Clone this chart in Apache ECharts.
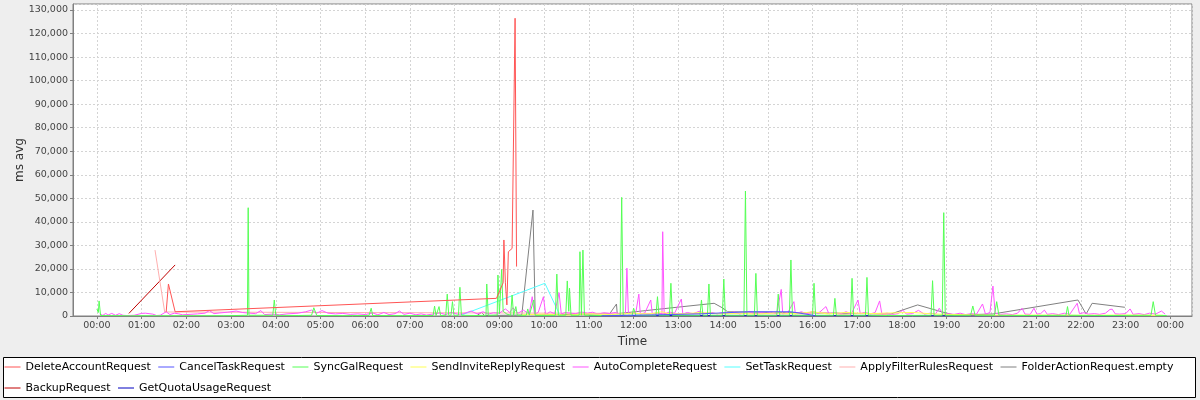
<!DOCTYPE html>
<html>
<head>
<meta charset="utf-8">
<script src="https://cdn.jsdelivr.net/npm/echarts@6/dist/echarts.min.js"></script>
<style>
html,body{margin:0;padding:0;background:#eeeeee;}
#chart{width:1200px;height:400px;}
</style>
</head>
<body>
<div id="chart"></div>
<script>
// ---- data (time of day, ms avg) ----
const seriesNames = ['DeleteAccountRequest','CancelTaskRequest','SyncGalRequest','SendInviteReplyRequest','AutoCompleteRequest','SetTaskRequest','ApplyFilterRulesRequest','FolderActionRequest.empty','BackupRequest','GetQuotaUsageRequest'];
const seriesColors = ['#FF5555','#5555FF','#55FF55','#FFFF55','#FF55FF','#55FFFF','#FFAFAF','#808080','#C00000','#0000C0'];

const deleteAccountRequest = [['01:33',1800],['01:36',13600],['01:45',1800],['01:47',1100],['08:56',7500],['09:05',14100],['09:06',32300],['09:08',14100],['09:10',4700],['09:12',27300],['09:17',28700],['09:21',126500],['09:23',21000]];

const cancelTaskRequest = [['11:17',100],['12:30',500],['13:30',900],['14:33',1800],['15:31',1800],['16:03',200]];

const syncGalRequest = [['00:00',3000],['00:02',1500],['00:03',6400],['00:05',200],['00:20',150],['00:45',100],['01:30',100],['02:10',120],['02:50',100],['03:22',300],['03:23',46000],['03:24',300],['03:56',300],['03:58',6800],['04:00',300],['04:30',200],['04:48',300],['04:51',3500],['04:55',200],['05:30',150],['06:05',200],['06:08',3300],['06:10',200],['06:50',150],['07:31',200],['07:33',4200],['07:35',200],['07:39',4000],['07:41',200],['07:48',300],['07:50',9300],['07:52',300],['07:55',300],['07:57',6100],['07:59',300],['08:05',300],['08:07',12200],['08:09',300],['08:30',200],['08:42',300],['08:43',13600],['08:44',13000],['08:45',300],['08:57',400],['08:58',17400],['09:00',1000],['09:03',19800],['09:05',2000],['09:10',800],['09:15',300],['09:17',8900],['09:19',300],['09:22',4000],['09:24',300],['09:36',300],['09:38',3000],['09:40',300],['09:46',6800],['09:48',300],['10:00',200],['10:15',300],['10:17',17800],['10:19',300],['10:29',300],['10:31',14900],['10:33',2000],['10:34',11800],['10:36',300],['10:47',300],['10:48',27300],['10:50',300],['10:52',28000],['10:54',300],['11:20',200],['11:42',300],['11:44',50400],['11:46',300],['11:58',300],['12:00',3300],['12:03',300],['12:30',300],['12:32',8200],['12:34',300],['12:48',300],['12:50',13900],['12:52',300],['13:29',300],['13:31',6800],['13:33',300],['13:39',300],['13:41',13600],['13:43',300],['13:59',300],['14:01',15700],['14:03',300],['14:28',300],['14:30',53100],['14:32',300],['14:42',300],['14:44',18100],['14:46',300],['15:12',300],['15:14',9300],['15:16',300],['15:29',300],['15:31',23800],['15:33',300],['16:00',300],['16:02',13900],['16:04',300],['16:28',300],['16:30',7500],['16:32',300],['16:51',300],['16:53',16000],['16:55',300],['17:11',300],['17:13',16400],['17:15',300],['17:40',200],['18:39',300],['18:41',15000],['18:43',300],['18:54',300],['18:56',43900],['18:58',300],['19:32',300],['19:35',4250],['19:38',300],['20:04',300],['20:07',6100],['20:10',300],['20:50',200],['21:40',300],['21:42',4000],['21:44',300],['22:30',200],['23:34',300],['23:37',6100],['23:40',300],['23:55',200]];

const sendInviteReplyRequest = [['09:30',500],['10:00',800],['10:30',400],['11:00',900],['11:30',600],['12:00',1200],['12:20',800],['12:38',1800],['12:50',700],['13:10',1000],['13:30',1500],['14:00',900],['14:20',1200],['14:45',800],['15:10',1300],['15:40',1000],['16:00',1800],['16:20',900],['16:45',1500],['17:15',1000],['17:45',1300],['18:15',1500],['18:40',900],['19:00',700],['19:30',500],['20:00',300],['21:00',400],['22:00',300],['23:00',400],['23:50',300]];

const autoCompleteRequest = [['00:04',900],['00:08',300],['00:12',1100],['00:15',400],['00:20',1100],['00:25',300],['00:30',1000],['00:35',300],['00:40',200],['00:50',300],['01:00',1100],['01:05',1200],['01:10',1000],['01:15',800],['01:20',200],['01:25',300],['01:33',1800],['01:38',600],['01:44',1200],['01:50',900],['01:55',500],['02:05',700],['02:15',900],['02:25',1200],['02:31',2300],['02:37',1000],['02:45',1300],['02:55',1600],['03:07',2100],['03:15',1500],['03:25',1200],['03:33',1000],['03:40',2300],['03:45',600],['03:55',800],['04:05',500],['04:15',900],['04:30',1200],['04:40',1800],['04:48',2500],['04:55',1200],['05:02',2300],['05:10',1200],['05:20',900],['05:30',1100],['05:40',700],['05:50',900],['06:00',600],['06:10',1300],['06:17',500],['06:25',1500],['06:32',600],['06:40',1000],['06:46',2100],['06:52',700],['07:00',1200],['07:08',500],['07:15',900],['07:22',400],['07:30',800],['07:40',1300],['07:48',600],['07:55',1500],['08:05',700],['08:12',1000],['08:22',2100],['08:30',900],['08:38',1800],['08:45',800],['08:52',1400],['09:00',1200],['09:08',3000],['09:14',1500],['09:18',3500],['09:25',1200],['09:32',2500],['09:40',900],['09:44',8200],['09:47',800],['09:52',1500],['09:59',8200],['10:02',600],['10:08',1800],['10:14',1000],['10:20',9900],['10:23',800],['10:28',1500],['10:36',1200],['10:42',1000],['10:50',1700],['10:58',1200],['11:05',1600],['11:12',800],['11:20',1400],['11:28',1100],['11:35',1500],['11:42',900],['11:49',900],['11:51',20300],['11:53',900],['11:58',1200],['12:03',1500],['12:07',9300],['12:09',800],['12:15',1300],['12:23',6800],['12:25',900],['12:32',1400],['12:38',800],['12:39',35800],['12:41',800],['12:48',1700],['12:55',1200],['13:04',7200],['13:06',900],['13:12',1500],['13:20',1000],['13:28',2000],['13:35',1200],['13:45',1500],['13:52',900],['14:00',1500],['14:08',1000],['14:15',1800],['14:22',900],['14:28',1300],['14:35',2000],['14:42',900],['14:50',1500],['14:58',1100],['15:05',1700],['15:12',1000],['15:18',11300],['15:20',900],['15:27',1600],['15:35',6100],['15:37',900],['15:45',1800],['15:52',1000],['16:00',2000],['16:08',1200],['16:18',4000],['16:22',900],['16:30',1500],['16:38',1000],['16:45',1800],['16:52',900],['17:01',6800],['17:04',1000],['17:10',1500],['17:18',900],['17:24',1500],['17:30',6400],['17:33',900],['17:40',1200],['17:48',700],['17:55',1000],['18:01',2500],['18:06',800],['18:14',1000],['18:22',2400],['18:30',800],['18:38',1200],['18:45',900],['18:50',3300],['18:55',800],['19:02',1000],['19:10',700],['19:18',1200],['19:25',600],['19:33',1000],['19:40',800],['19:48',5100],['19:52',800],['19:58',1500],['20:02',12700],['20:05',1200],['20:12',700],['20:20',900],['20:28',600],['20:35',1200],['20:41',3300],['20:45',800],['20:52',700],['20:57',3300],['21:01',800],['21:06',1000],['21:11',2500],['21:15',700],['21:22',1000],['21:30',600],['21:38',1200],['21:45',700],['21:55',5400],['21:58',1000],['22:04',1400],['22:10',800],['22:18',1000],['22:25',700],['22:33',1200],['22:39',2800],['22:42',2900],['22:46',900],['22:52',800],['23:00',1000],['23:06',3000],['23:10',700],['23:18',1000],['23:25',600],['23:32',1200],['23:40',800],['23:48',2100],['23:53',800]];

const setTaskRequest = [['08:09',400],['10:01',13900],['10:21',400]];

const applyFilterRulesRequest = [['01:18',28000],['01:31',1700],['15:50',900],['16:10',1600],['16:40',700],['17:10',1200],['17:40',600]];

const folderActionRequestEmpty = [['08:30',200],['08:36',1500],['08:40',200],['09:30',400],['09:45',45000],['09:48',400],['11:28',1000],['11:37',5100],['11:38',1000],['13:48',5400],['14:00',3300],['14:06',1800],['17:45',850],['18:21',4700],['18:53',1800],['19:10',400],['20:02',850],['21:56',6800],['22:07',850],['22:15',5400],['22:59',3700]];

const backupRequest = [['00:43',1100],['01:45',21700]];

const getQuotaUsageRequest = [['11:00',100],['13:00',150],['15:00',100],['17:00',120],['19:00',100],['21:00',150],['23:00',100]];

const seriesData = [deleteAccountRequest, cancelTaskRequest, syncGalRequest, sendInviteReplyRequest, autoCompleteRequest, setTaskRequest, applyFilterRulesRequest, folderActionRequestEmpty, backupRequest, getQuotaUsageRequest];

// axis extents (minutes relative to midnight)
const xMinMinutes = -32;
const xMaxMinutes = 1469;
const yMax = 132550;
const yInterval = 10000;

// ---- build ----
const BASE = new Date(2024, 0, 1, 0, 0, 0).getTime();
function toTime(hhmm) {
  const p = hhmm.split(':');
  return BASE + (parseInt(p[0], 10) * 60 + parseInt(p[1], 10)) * 60000;
}
function pad(n) { return (n < 10 ? '0' : '') + n; }

const series = seriesNames.map(function (name, i) {
  return {
    name: name,
    type: 'line',
    symbol: 'none',
    showSymbol: false,
    itemStyle: { color: seriesColors[i] },
    lineStyle: { width: 1, color: seriesColors[i] },
    z: 20 - i,
    data: seriesData[i].map(function (d) { return [toTime(d[0]), d[1]]; })
  };
}).reverse();

const chart = echarts.init(document.getElementById('chart'), null, { renderer: 'canvas' });
const option = {
  animation: false,
  backgroundColor: '#eeeeee',
  color: seriesColors,
  textStyle: { fontFamily: 'DejaVu Sans' },
  grid: {
    left: 73, right: 8, top: 4, bottom: 84,
    show: true, backgroundColor: '#ffffff', borderColor: '#808080', borderWidth: 1
  },
  graphic: [{
    type: 'rect', left: 3, top: 357, z: -1,
    shape: { width: 1192, height: 40 },
    style: { fill: '#ffffff', stroke: '#000000', lineWidth: 1 }
  }],
  legend: {
    data: seriesNames,
    left: 4, top: 360, width: 1190,
    padding: 0, itemGap: 7, itemWidth: 16, itemHeight: 8,
    itemStyle: { opacity: 0 },
    lineStyle: { width: 1 },
    textStyle: { fontFamily: 'DejaVu Sans', fontSize: 11, color: '#000', lineHeight: 14 }
  },
  xAxis: {
    type: 'time',
    min: BASE + xMinMinutes * 60000,
    max: BASE + xMaxMinutes * 60000,
    minInterval: 3600000, maxInterval: 3600000,
    name: 'Time', nameLocation: 'middle', nameGap: 20,
    nameTextStyle: { fontFamily: 'DejaVu Sans', fontSize: 12, color: '#333' },
    axisLine: { show: true, lineStyle: { color: '#808080' } },
    axisTick: { show: true, length: 3, lineStyle: { color: '#808080' } },
    minorTick: { show: false },
    axisLabel: {
      showMinLabel: false, showMaxLabel: false, margin: 5,
      fontFamily: 'DejaVu Sans', fontSize: 9.5, color: '#444',
      formatter: function (v) { const d = new Date(v); return pad(d.getHours()) + ':' + pad(d.getMinutes()); }
    },
    splitLine: { show: true, lineStyle: { color: '#d4d4d4', type: [2, 2], width: 1 } }
  },
  yAxis: {
    type: 'value', min: 0, max: yMax, interval: yInterval,
    name: 'ms avg', nameLocation: 'middle', nameGap: 47, nameRotate: 90,
    nameMoveOverlap: false,
    nameTextStyle: { fontFamily: 'DejaVu Sans', fontSize: 12, color: '#333' },
    axisLine: { show: true, lineStyle: { color: '#808080' } },
    axisTick: { show: true, length: 3, lineStyle: { color: '#808080' } },
    axisLabel: {
      showMaxLabel: false, margin: 5,
      fontFamily: 'DejaVu Sans', fontSize: 9.5, color: '#444',
      formatter: function (v) { return Number(v).toLocaleString('en-US'); }
    },
    splitLine: { show: true, lineStyle: { color: '#d4d4d4', type: [2, 2], width: 1 } }
  },
  series: series
};
chart.setOption(option);
</script>
</body>
</html>
